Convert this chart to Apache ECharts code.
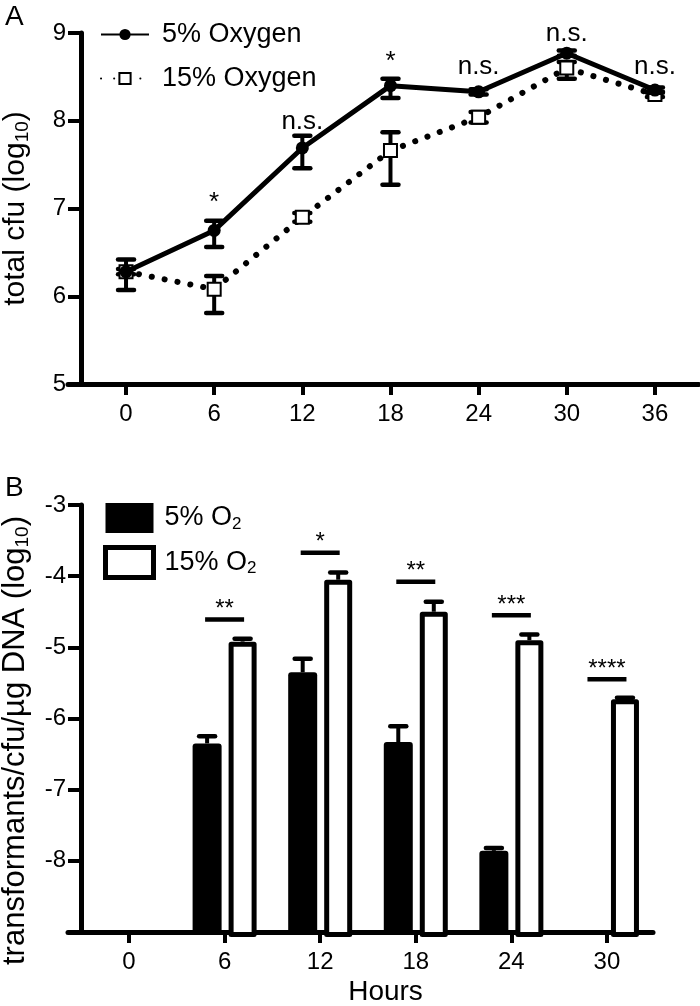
<!DOCTYPE html>
<html><head><meta charset="utf-8">
<script src="https://cdn.jsdelivr.net/npm/echarts@6/dist/echarts.min.js"></script>
<style>html,body{margin:0;padding:0;background:#fff}#c{width:700px;height:1006px}</style>
</head><body><div id="c"></div>
<script>
// ---------- Panel A data ----------
const hoursA = [0, 6, 12, 18, 24, 30, 36];
const oxy5Mean = [6.28, 6.75, 7.69, 8.40, 8.33, 8.77, 8.35];
const oxy5Low  = [6.07, 6.56, 7.46, 8.26, 8.30, 8.74, 8.32];
const oxy5High = [6.42, 6.86, 7.83, 8.48, 8.36, 8.80, 8.38];
const oxy15Mean = [6.28, 6.08, 6.90, 7.66, 8.04, 8.60, 8.30];
const oxy15Low  = [6.25, 5.81, 6.85, 7.27, 7.98, 8.48, 8.27];
const oxy15High = [6.31, 6.23, 6.95, 7.87, 8.10, 8.67, 8.33];
const annotHoursA = [6, 12, 18, 24, 30, 36];
const annotLabelsA = ['*', 'n.s.', '*', 'n.s.', 'n.s.', 'n.s.'];
const annotYA = [7.06, 7.99, 8.67, 8.61, 8.99, 8.61];

// ---------- Panel B data ----------
const hoursB = [0, 6, 12, 18, 24, 30];
const o2Low  = [null, -6.35, -5.35, -6.33, -7.86, null];
const o2LowErr = [null, 0.10, 0.19, 0.22, 0.04, null];
const o2High = [null, -4.92, -4.05, -4.50, -4.90, -5.73];
const o2HighErr = [null, 0.04, 0.10, 0.14, 0.08, 0.02];
const sigHours = [6, 12, 18, 24, 30];
const sigY = [-4.61, -3.67, -4.08, -4.55, -5.45];
const sigLabels = ['**', '*', '**', '***', '****'];

const FONT = 'Liberation Sans, Arial, Helvetica, sans-serif';

function errRender(params, api) {
  const x = api.value(0), lo = api.value(1), hi = api.value(2);
  const p1 = api.coord([x, lo]), p2 = api.coord([x, hi]);
  const hw = 8;
  return {type: 'group', children: [
    {type: 'line', shape: {x1: p1[0], y1: p1[1], x2: p2[0], y2: p2[1]}, style: {stroke: '#000', lineWidth: 4}},
    {type: 'line', shape: {x1: p1[0]-hw, y1: p1[1], x2: p1[0]+hw, y2: p1[1]}, style: {stroke: '#000', lineWidth: 4.5, lineCap: 'round'}},
    {type: 'line', shape: {x1: p2[0]-hw, y1: p2[1], x2: p2[0]+hw, y2: p2[1]}, style: {stroke: '#000', lineWidth: 4.5, lineCap: 'round'}}
  ]};
}

function barRender(offsetPx, filled) {
  return function (params, api) {
    const x = api.value(0), y = api.value(1), e = api.value(2);
    const top = api.coord([x, y]);
    const base = api.coord([x, -9]);
    const cap = api.coord([x, y + e]);
    const cx = top[0] + offsetPx;
    const children = [];
    if (filled) {
      const w = 29;
      children.push({type: 'rect', shape: {x: cx - w/2, y: top[1], width: w, height: base[1] - top[1], r: [3, 3, 0, 0]}, style: {fill: '#000'}});
    } else {
      const w = 28, sw = 5;
      children.push({type: 'rect', shape: {x: cx - w/2 + sw/2, y: top[1] + sw/2, width: w - sw, height: base[1] - top[1]}, style: {fill: '#fff', stroke: '#000', lineWidth: sw, lineJoin: 'round'}});
    }
    children.push({type: 'line', shape: {x1: cx, y1: top[1], x2: cx, y2: cap[1]}, style: {stroke: '#000', lineWidth: 4}});
    children.push({type: 'line', shape: {x1: cx - 8, y1: cap[1], x2: cx + 8, y2: cap[1]}, style: {stroke: '#000', lineWidth: 4.5, lineCap: 'round'}});
    return {type: 'group', children: children};
  };
}

function textRender(labels, dy, fontSize) {
  return function (params, api) {
    const p = api.coord([api.value(0), api.value(1)]);
    return {type: 'text', style: {text: labels[params.dataIndex], x: p[0], y: p[1] + dy,
      font: fontSize + 'px ' + FONT, fill: '#000', align: 'center', verticalAlign: 'middle',
      textAlign: 'center', textVerticalAlign: 'middle'}};
  };
}

function sigRender(params, api) {
  const p = api.coord([api.value(0), api.value(1)]);
  return {type: 'group', children: [
    {type: 'line', shape: {x1: p[0] - 19.5, y1: p[1], x2: p[0] + 19.5, y2: p[1]}, style: {stroke: '#000', lineWidth: 4.5}},
    {type: 'text', style: {text: sigLabels[params.dataIndex], x: p[0], y: p[1] - 10,
      font: '24px ' + FONT, fill: '#000', align: 'center', verticalAlign: 'middle',
      textAlign: 'center', textVerticalAlign: 'middle'}}
  ]};
}

const axisLineStyle = {color: '#000', width: 5};
const tickStyle = {color: '#000', width: 4};
const subRich = {s: {fontSize: 17, fontFamily: FONT, color: '#000', verticalAlign: 'top', padding: [12, 0, 0, 0]}};
const subRichBig = {s: {fontSize: 19, fontFamily: FONT, color: '#000', verticalAlign: 'top', padding: [14, 0, 0, 0]}};

const option = {
  animation: false,
  backgroundColor: '#fff',
  textStyle: {fontFamily: FONT, color: '#000'},
  title: [
    {text: 'A', left: 0, top: -2, textStyle: {fontSize: 28, fontWeight: 'normal', fontFamily: FONT, color: '#000'}},
    {text: 'B', left: 0, top: 469, textStyle: {fontSize: 28, fontWeight: 'normal', fontFamily: FONT, color: '#000'}}
  ],
  grid: [
    {left: 68, right: 1, top: 33, height: 351, containLabel: false, outerBoundsMode: 'none'},
    {left: 68, right: 47, top: 505, height: 427, containLabel: false, outerBoundsMode: 'none'}
  ],
  legend: [
    {data: ['5% Oxygen', '15% Oxygen'], orient: 'vertical', left: 100, top: 21, padding: 0,
     itemWidth: 48, itemHeight: 14, itemGap: 17,
     textStyle: {fontSize: 27, fontFamily: FONT, color: '#000', padding: [0, 0, 0, 8]}},
    {data: [
      {name: '5% O₂', icon: 'rect', itemStyle: {color: '#000', borderWidth: 0}},
      {name: '15% O₂', icon: 'rect', itemStyle: {color: '#fff', borderColor: '#000', borderWidth: 5}}
     ],
     orient: 'vertical', left: 103, top: 503, padding: 0, itemWidth: 48, itemHeight: 30, itemGap: 12,
     formatter: function (n) { return n.replace('O₂', 'O{s|2}'); },
     textStyle: {fontSize: 27, fontFamily: FONT, color: '#000', padding: [0, 0, 0, 6], rich: subRich}}
  ],
  xAxis: [
    {gridIndex: 0, type: 'value', min: -3.95, max: 39,
     axisLine: {show: true, onZero: false, lineStyle: axisLineStyle},
     axisTick: {show: true, length: 11, lineStyle: tickStyle, customValues: hoursA},
     axisLabel: {customValues: hoursA, fontSize: 24, fontFamily: FONT, color: '#000', margin: 18},
     splitLine: {show: false}},
    {gridIndex: 1, type: 'value', min: -3.83, max: 32.89,
     axisLine: {show: true, onZero: false, lineStyle: axisLineStyle},
     axisTick: {show: true, length: 11, lineStyle: tickStyle, customValues: hoursB},
     axisLabel: {customValues: hoursB, fontSize: 24, fontFamily: FONT, color: '#000', margin: 18},
     splitLine: {show: false},
     name: 'Hours', nameLocation: 'middle', nameGap: 46,
     nameTextStyle: {fontSize: 28, fontFamily: FONT, color: '#000', padding: [0, 0, 0, 50]}}
  ],
  yAxis: [
    {gridIndex: 0, type: 'value', min: 5, max: 9, interval: 1, offset: -13,
     axisLine: {show: true, onZero: false, lineStyle: axisLineStyle},
     axisTick: {show: true, length: 13, lineStyle: tickStyle},
     axisLabel: {fontSize: 24, fontFamily: FONT, color: '#000', margin: 15},
     splitLine: {show: false},
     name: 'total cfu (log{s|10})', nameLocation: 'middle', nameGap: 49, nameRotate: 90,
     nameTextStyle: {fontSize: 30, fontFamily: FONT, color: '#000', rich: subRichBig}},
    {gridIndex: 1, type: 'value', min: -9, max: -3, interval: 1, offset: -13,
     axisLine: {show: true, onZero: false, lineStyle: axisLineStyle},
     axisTick: {show: true, length: 13, lineStyle: tickStyle},
     axisLabel: {fontSize: 24, fontFamily: FONT, color: '#000', margin: 15,
       formatter: function (v) { return v === -9 ? '' : String(v); }},
     splitLine: {show: false},
     name: 'transformants/cfu/µg DNA (log{s|10})', nameLocation: 'middle', nameGap: 49, nameRotate: 90,
     nameTextStyle: {fontSize: 31, fontFamily: FONT, color: '#000', rich: subRichBig, padding: [0, 44, 0, 0]}}
  ],
  series: [
    {name: '15% Oxygen', type: 'line', xAxisIndex: 0, yAxisIndex: 0, z: 3,
     data: hoursA.map((h, i) => [h, oxy15Mean[i]]),
     symbol: 'emptyRect', symbolSize: 13,
     lineStyle: {color: '#000', width: 6, type: [0.1, 13], cap: 'round'},
     itemStyle: {color: '#000', borderColor: '#000', borderWidth: 4}},
    {name: 'err15', type: 'custom', xAxisIndex: 0, yAxisIndex: 0, z: 3,
     data: hoursA.map((h, i) => [h, oxy15Low[i], oxy15High[i]]),
     encode: {x: 0, y: [1, 2]}, renderItem: errRender},
    {name: 'err5', type: 'custom', xAxisIndex: 0, yAxisIndex: 0, z: 4,
     data: hoursA.map((h, i) => [h, oxy5Low[i], oxy5High[i]]),
     encode: {x: 0, y: [1, 2]}, renderItem: errRender},
    {name: '5% Oxygen', type: 'line', xAxisIndex: 0, yAxisIndex: 0, z: 5,
     data: hoursA.map((h, i) => [h, oxy5Mean[i]]),
     symbol: 'circle', symbolSize: 13,
     lineStyle: {color: '#000', width: 5},
     itemStyle: {color: '#000'}},
    {name: 'annotA', type: 'custom', xAxisIndex: 0, yAxisIndex: 0, z: 6,
     data: annotHoursA.map((h, i) => [h, annotYA[i]]),
     encode: {x: 0, y: 1}, renderItem: textRender(annotLabelsA, 0, 26)},
    {name: '5% O₂', type: 'custom', xAxisIndex: 1, yAxisIndex: 1, z: 2,
     itemStyle: {color: '#000'},
     data: hoursB.map((h, i) => [h, o2Low[i], o2LowErr[i]]).filter(d => d[1] !== null),
     encode: {x: 0, y: 1}, renderItem: barRender(-17.5, true)},
    {name: '15% O₂', type: 'custom', xAxisIndex: 1, yAxisIndex: 1, z: 2,
     itemStyle: {color: '#fff', borderColor: '#000'},
     data: hoursB.map((h, i) => [h, o2High[i], o2HighErr[i]]).filter(d => d[1] !== null),
     encode: {x: 0, y: 1}, renderItem: barRender(18, false)},
    {name: 'sig', type: 'custom', xAxisIndex: 1, yAxisIndex: 1, z: 4,
     data: sigHours.map((h, i) => [h, sigY[i]]),
     encode: {x: 0, y: 1}, renderItem: sigRender}
  ]
};

const chart = echarts.init(document.getElementById('c'), null, {renderer: 'canvas'});
chart.setOption(option);
</script>
</body></html>
